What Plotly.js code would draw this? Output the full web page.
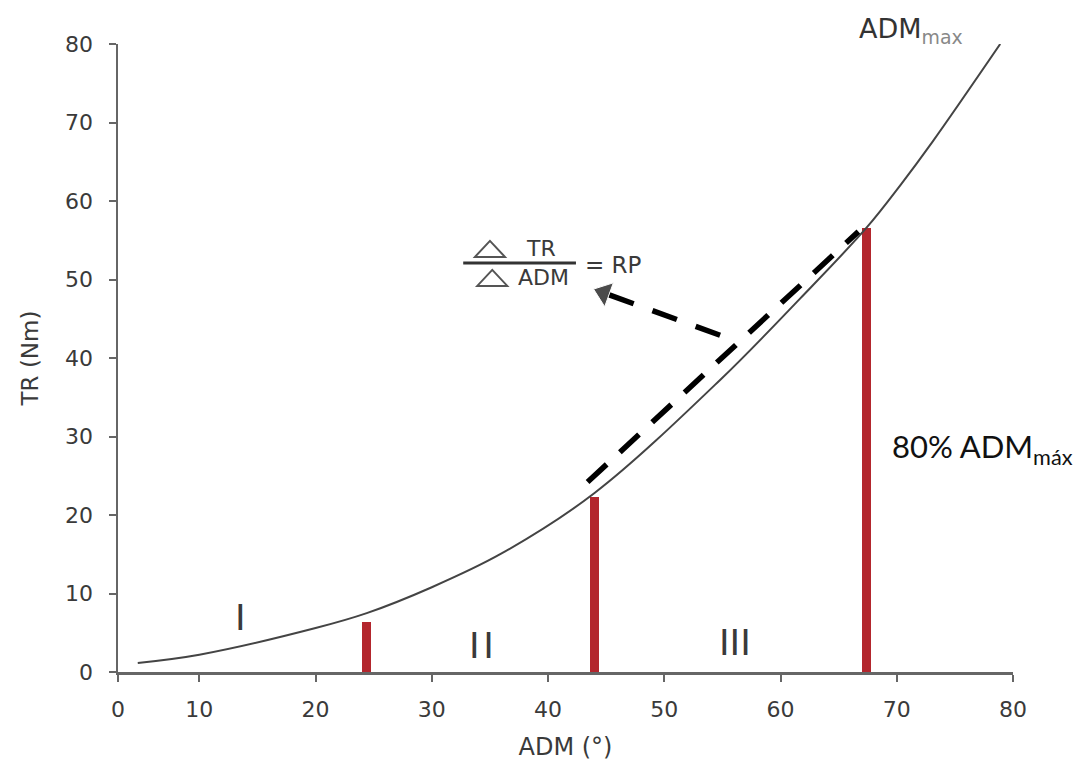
<!DOCTYPE html>
<html>
<head>
<meta charset="utf-8">
<script src="https://cdn.plot.ly/plotly-3.0.1.min.js"></script>
<style>html,body{margin:0;padding:0;background:#fff;}#chart{width:1091px;height:774px;}</style>
</head>
<body>
<div id="chart"></div>
<script>
// Torque-angle curve (TR vs ADM)
const curveADM = [4.7, 10, 20, 24.4, 30, 36, 44.0, 54.8, 61.7, 67.4, 70.3, 73.1, 78.9];
const curveTR  = [1.15, 2.2, 5.6, 7.5, 10.8, 15.1, 22.8, 37.2, 47.6, 56.6, 62.0, 67.6, 80];

// Red markers (phase limits)
const barADM = [24.4, 44.0, 67.4];
const barTR  = [6.4, 22.3, 56.6];

// Dashed tangent (RP slope)
const tangentADM = [43.4, 66.7];
const tangentTR  = [24.2, 56.1];

// Dashed arrow pointing to formula
const arrowADM = [54.8, 44.8];
const arrowTR  = [42.9, 48.3];

// Axis ticks
const xTickVals = [3, 10, 20, 30, 40, 50, 60, 70, 80];
const xTickText = ['0', '10', '20', '30', '40', '50', '60', '70', '80'];
const yTickVals = [0, 10, 20, 30, 40, 50, 60, 70, 80];

const FONT = 'DejaVu Sans, Liberation Sans, Arial, sans-serif';
const AXC = '#666';
const TXC = '#3a3a3a';

const traces = [
  {
    type: 'bar', x: barADM, y: barTR, width: 0.75,
    marker: {color: '#b3262d', line: {width: 0}},
    hoverinfo: 'x+y', showlegend: false
  },
  {
    type: 'scatter', mode: 'lines', x: curveADM, y: curveTR,
    line: {color: '#444', width: 2, shape: 'spline', smoothing: 1},
    cliponaxis: false, showlegend: false
  },
  {
    type: 'scatter', mode: 'lines', x: tangentADM, y: tangentTR,
    line: {color: '#000', width: 5.5, dash: '26px,18px'},
    showlegend: false
  },
  {
    type: 'scatter', mode: 'lines+markers', x: arrowADM, y: arrowTR,
    line: {color: '#000', width: 5.5, dash: '26px,20px'},
    marker: {symbol: 'triangle-up', size: [0, 22], color: '#000', angleref: 'previous'},
    showlegend: false
  }
];

function tri(xc, yc) {
  return {type: 'path', xref: 'x', yref: 'y', xsizemode: 'pixel', ysizemode: 'pixel',
          xanchor: xc, yanchor: yc, path: 'M-15,-8L15,-8L0,8Z',
          line: {color: '#555', width: 2}, fillcolor: 'rgba(0,0,0,0)'};
}

const layout = {
  width: 1091, height: 774,
  margin: {l: 118, r: 78, t: 44, b: 102},
  paper_bgcolor: '#fff', plot_bgcolor: '#fff',
  bargap: 0,
  xaxis: {
    range: [3, 80], tickvals: xTickVals, ticktext: xTickText,
    showline: true, linecolor: AXC, linewidth: 2.5,
    ticks: 'outside', ticklen: 7, tickwidth: 2, tickcolor: AXC,
    ticklabelstandoff: 9,
    tickfont: {family: FONT, size: 22, color: TXC},
    showgrid: false, zeroline: false,
    title: {text: 'ADM (°)', font: {family: FONT, size: 24, color: TXC}, standoff: 18}
  },
  yaxis: {
    range: [0, 80], tickvals: yTickVals,
    showline: true, linecolor: AXC, linewidth: 2.5,
    ticks: 'outside', ticklen: 7, tickwidth: 2, tickcolor: AXC,
    ticklabelstandoff: 11,
    tickfont: {family: FONT, size: 22, color: TXC},
    showgrid: false, zeroline: false,
    title: {text: 'TR (Nm)', font: {family: FONT, size: 23, color: TXC}, standoff: 20}
  },
  shapes: [
    {type: 'line', xref: 'x', yref: 'y', x0: 32.7, x1: 42.4, y0: 52.1, y1: 52.1,
     line: {color: '#333', width: 3}},
    tri(35.0, 53.9),
    tri(35.2, 50.2)
  ],
  annotations: [
    {x: 39.4, y: 53.9, text: 'TR', showarrow: false, font: {family: FONT, size: 22, color: TXC}},
    {x: 39.6, y: 50.2, text: 'ADM', showarrow: false, font: {family: FONT, size: 22, color: TXC}},
    {x: 43.0, y: 51.8, xanchor: 'left', text: '= RP', showarrow: false, font: {family: FONT, size: 23, color: TXC}},
    {x: 13.5, y: 6.9, text: 'I', showarrow: false, font: {family: FONT, size: 36, color: TXC}},
    {x: 34.3, y: 3.4, text: 'I\u200aI', showarrow: false, font: {family: FONT, size: 36, color: TXC}},
    {x: 56.1, y: 3.7, text: 'III', showarrow: false, font: {family: FONT, size: 36, color: TXC}},
    {xref: 'paper', yref: 'paper', x: 0.826, y: 1.021, xanchor: 'left', yanchor: 'middle',
     text: 'ADM<sub><span style="color:#888">max</span></sub>', showarrow: false,
     font: {family: FONT, size: 27, color: '#333'}},
    {x: 69.4, y: 28.5, xanchor: 'left', text: '80% ADM<sub>máx</sub>', showarrow: false,
     font: {family: 'Lato, Open Sans, sans-serif', size: 31, color: '#111'}}
  ]
};

Plotly.newPlot('chart', traces, layout, {displayModeBar: false, staticPlot: true});
</script>
</body>
</html>
